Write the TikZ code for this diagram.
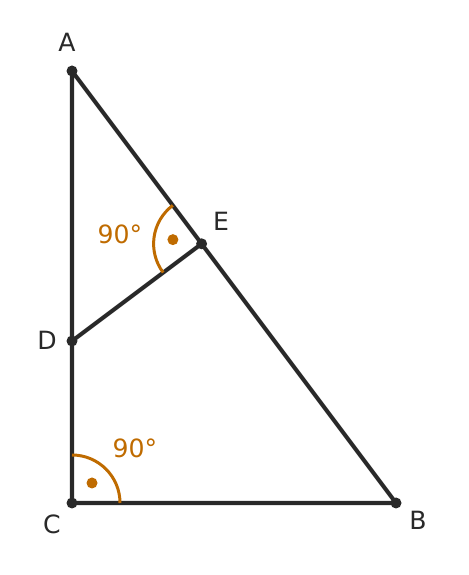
\documentclass[tikz,border=0pt]{standalone}
\usepackage{fontspec}
\setmainfont{DejaVu Sans}
\definecolor{heise}{rgb}{0.16,0.16,0.16}
\definecolor{chenghuang}{rgb}{0.75,0.42,0.0}

\begin{document}
\begin{tikzpicture}[font=\fontsize{14.3}{16}\selectfont,
		seg/.style={color=heise, line width=2.3pt, line cap=round, line join=round},
		jiao/.style={color=chenghuang, line width=1.7pt},
		dian/.style={circle, fill=heise, inner sep=0pt, minimum size=0.22cm},
		odian/.style={circle, fill=chenghuang, inner sep=0pt, minimum size=0.22cm}]
			\useasboundingbox (-1.44,-1.44) rectangle (7.92,10.06);
			\coordinate (C) at (0,0);
			\coordinate (B) at (6.48,0);
			\coordinate (A) at (0,8.64);
			\coordinate (D) at (0,3.24);
			\coordinate (E) at (2.592,5.184);
			% triangle and the perpendicular
			\draw[seg] (A) -- (B) -- (C) -- cycle;
			\draw[seg] (D) -- (E);
			% right angles
			\draw[jiao] ([shift={(0:0.96)}]C) arc[start angle=0, end angle=90, radius=0.96];
			\draw[jiao] ([shift={(126.87:0.96)}]E) arc[start angle=126.87, end angle=216.87, radius=0.96];
			\node[odian] (cd) at (0.4,0.4) {};
			\node[odian] (ed) at (2.018,5.267) {};
			\node[color=chenghuang] (cj) at (1.26,1.1) {90°};
			\node[color=chenghuang] (ej) at (0.96,5.38) {90°};
			% points
			\foreach \p in {A,B,C,D,E} \node[dian] (\p p) at (\p) {};
			\node[color=heise] (la) at (-0.1,9.22) {A};
			\node[color=heise] (lb) at (6.92,-0.34) {B};
			\node[color=heise] (lc) at (-0.4,-0.42) {C};
			\node[color=heise] (ld) at (-0.5,3.26) {D};
			\node[color=heise] (le) at (2.98,5.64) {E};
		\end{tikzpicture}
\end{document}
